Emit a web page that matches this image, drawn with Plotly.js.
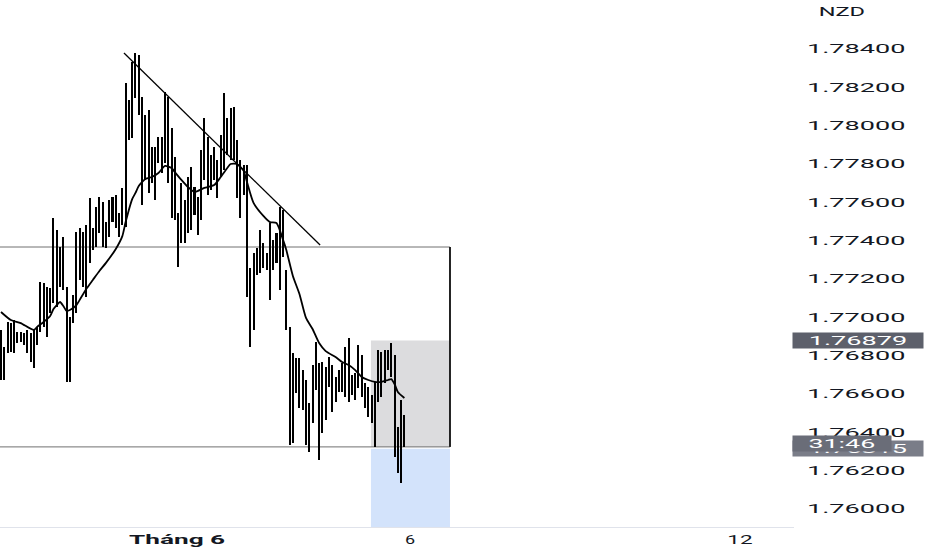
<!DOCTYPE html>
<html><head><meta charset="utf-8">
<script src="https://cdn.plot.ly/plotly-3.0.1.min.js"></script>
<style>html,body{margin:0;padding:0;background:#fff;}#chart{width:932px;height:550px;}</style>
</head><body><div id="chart"></div>
<script>
// hourly bars (high / low)
const highs = [1.76934,1.76845,1.76976,1.76970,1.76986,1.76924,1.76924,1.76918,1.76934,1.76918,
1.76934,1.76950,1.77184,1.77179,1.77158,1.77153,1.77518,1.77456,1.77367,1.77419,
1.77158,1.77002,1.77117,1.77445,1.77466,1.77445,1.77482,1.77623,1.77466,1.77576,
1.77628,1.77602,1.77497,1.77612,1.77628,1.77638,1.77544,1.77675,1.78223,1.78134,
1.78332,1.78379,1.78369,1.78150,1.78056,1.78082,1.77889,1.77889,1.77941,1.77941,
1.78176,1.78150,1.77988,1.77837,1.77544,1.77701,1.77612,1.77732,1.77784,1.77680,
1.77628,1.77873,1.78040,1.77941,1.77847,1.77889,1.77821,1.77951,1.78171,1.78040,
1.78092,1.78097,1.77925,1.77821,1.77795,1.77795,1.77257,1.77336,1.77362,1.77456,
1.77388,1.77336,1.77492,1.77404,1.77440,1.77576,1.77560,1.77247,1.76950,1.76814,
1.76788,1.76788,1.76725,1.76673,1.76553,1.76751,1.76871,1.76762,1.76767,1.76741,
1.76793,1.76751,1.76689,1.76725,1.76762,1.76845,1.76892,1.76699,1.76710,1.76856,
1.76804,1.76657,1.76637,1.76595,1.76663,1.76830,1.76819,1.76830,1.76830,1.76866,
1.76804,1.76428,1.76569,1.76491];
const lows = [1.76673,1.76673,1.76814,1.76819,1.76814,1.76866,1.76871,1.76856,1.76814,1.76767,
1.76736,1.76856,1.76924,1.76950,1.76897,1.77023,1.77075,1.77054,1.77158,1.77143,
1.76663,1.76663,1.76970,1.77023,1.77195,1.77158,1.77106,1.77284,1.77351,1.77367,
1.77440,1.77367,1.77362,1.77419,1.77497,1.77466,1.77419,1.77482,1.77471,1.77925,
1.77936,1.78145,1.78056,1.77586,1.77717,1.77649,1.77701,1.77612,1.77805,1.77753,
1.77805,1.77701,1.77518,1.77508,1.77263,1.77388,1.77388,1.77440,1.77456,1.77534,
1.77430,1.77508,1.77717,1.77638,1.77664,1.77717,1.77623,1.77732,1.77769,1.77847,
1.77821,1.77821,1.77623,1.77518,1.77638,1.77106,1.76845,1.76934,1.77221,1.77231,
1.77257,1.77247,1.77091,1.77247,1.77284,1.77143,1.77315,1.76934,1.76334,1.76344,
1.76605,1.76527,1.76517,1.76334,1.76298,1.76449,1.76621,1.76256,1.76397,1.76464,
1.76637,1.76506,1.76558,1.76611,1.76611,1.76584,1.76558,1.76595,1.76569,1.76631,
1.76584,1.76527,1.76480,1.76449,1.76324,1.76558,1.76584,1.76657,1.76725,1.76689,
1.76271,1.76188,1.76136,1.76324];

// moving average line
const maIndex = [0,3,6,10,11,13,15,16,17,18,19,20,21,23,24,26,28,30,32,35,37,38,40,41,42,44,45,46,48,50,
52,53,55,57,59,62,65,67,69,70,72,73,74,75,77,80,82,84,86,87,89,91,93,95,97,99,102,104,106,108,
110,112,114,116,118,119,120,121,123];
const maValues = [1.77028,1.76986,1.76970,1.76934,1.76950,1.76976,1.77007,1.77043,1.77064,1.77080,
1.77059,1.77033,1.77038,1.77064,1.77091,1.77148,1.77195,1.77242,1.77284,1.77357,
1.77424,1.77497,1.77617,1.77649,1.77685,1.77722,1.77727,1.77732,1.77753,1.77790,
1.77779,1.77758,1.77717,1.77680,1.77654,1.77675,1.77690,1.77732,1.77779,1.77800,
1.77800,1.77784,1.77764,1.77706,1.77597,1.77529,1.77497,1.77492,1.77404,1.77351,
1.77216,1.77122,1.76997,1.76939,1.76866,1.76824,1.76793,1.76767,1.76751,1.76725,
1.76689,1.76673,1.76663,1.76663,1.76673,1.76678,1.76652,1.76611,1.76579];

// drawings
const trendIndex = [37.5, 97.3];
const trendPrice = [1.78379, 1.77377];
const rangeTop = 1.77367, rangeBottom = 1.76324, rangeStart = -10, rangeEnd = 136.9;
const posStart = 112.8, posEnd = 136.9;
const stopPrice = 1.76879, entryPrice = 1.76324, targetPrice = 1.7550;
const lastPrice = 1.76315, lastPriceText = '1.76315', countdownText = '31:46';
const currency = 'NZD';

// axes
const priceTicks = [1.760,1.762,1.764,1.766,1.768,1.770,1.772,1.774,1.776,1.778,1.780,1.782,1.784];
const dateTickIndex = [53.7, 124.7, 225.3];
const dateTickText = ['<b>Tháng 6</b>', '6', '12'];
const yRange = [1.759061, 1.786557];
const xRange = [-0.305, 241.8];

const idx = highs.map((_, i) => i);
const FONT = 'Roboto, "Liberation Sans", Arial, sans-serif';
const INK = '#131722';

const bars = {
  type: 'bar', x: idx, base: lows, y: highs.map((h, i) => h - lows[i]),
  width: 0.62, marker: {color: '#000', line: {width: 0}}, hoverinfo: 'skip', showlegend: false
};
const ma = {
  type: 'scatter', mode: 'lines', x: maIndex, y: maValues,
  line: {color: '#000', width: 1.8, shape: 'spline', smoothing: 0.6}, hoverinfo: 'skip', showlegend: false
};

const layout = {
  width: 932, height: 550,
  margin: {l: 0, r: 138, t: 0, b: 23},
  paper_bgcolor: '#fff', plot_bgcolor: '#fff',
  bargap: 0,
  font: {family: FONT, color: INK, size: 12},
  xaxis: {
    range: xRange, showgrid: false, zeroline: false, showline: true, linecolor: '#e0e3eb', linewidth: 1,
    tickvals: dateTickIndex, ticktext: dateTickText, ticks: '', tickfont: {size: 12, color: INK},
    ticklabelstandoff: 2, fixedrange: true
  },
  yaxis: {
    side: 'right', range: yRange, showgrid: false, zeroline: false, showline: false,
    tickvals: priceTicks, tickformat: '.5f', ticks: '', ticklabelstandoff: 12,
    tickfont: {size: 12, color: INK}, fixedrange: true
  },
  shapes: [
    {type: 'rect', xref: 'x', yref: 'y', x0: posStart, x1: posEnd, y0: entryPrice, y1: stopPrice,
     fillcolor: '#dcdcde', line: {width: 0}, layer: 'below'},
    {type: 'rect', xref: 'x', yref: 'y', x0: posStart, x1: posEnd, y0: targetPrice, y1: lastPrice - 0.00001,
     fillcolor: '#d3e3fb', line: {width: 0}, layer: 'below'},
    {type: 'rect', xref: 'x', yref: 'y', x0: rangeStart, x1: rangeEnd, y0: rangeBottom, y1: rangeTop,
     fillcolor: 'rgba(0,0,0,0)', line: {color: '#707070', width: 1}, layer: 'below'},
    {type: 'line', xref: 'x', yref: 'y', x0: rangeEnd, x1: rangeEnd, y0: rangeBottom, y1: rangeTop,
     line: {color: '#222', width: 2}},
    {type: 'line', xref: 'x', yref: 'y', x0: trendIndex[0], x1: trendIndex[1], y0: trendPrice[0], y1: trendPrice[1],
     line: {color: '#000', width: 1.3}}
  ],
  annotations: [
    {xref: 'paper', yref: 'y', x: 792/794, y: stopPrice, xanchor: 'left', yanchor: 'middle',
     text: stopPrice.toFixed(5), showarrow: false, bgcolor: '#5d606b', width: 130, height: 15, borderpad: 0,
     align: 'center', font: {color: '#fff', size: 12, family: FONT}},
    {xref: 'paper', yref: 'y', x: 792/794, y: lastPrice, xanchor: 'left', yanchor: 'middle',
     text: lastPriceText, showarrow: false, bgcolor: '#7a7d88', width: 130, height: 15, borderpad: 0,
     align: 'center', font: {color: '#fff', size: 12, family: FONT}},
    {xref: 'paper', yref: 'y', x: 792/794, y: lastPrice, yshift: 5, xanchor: 'left', yanchor: 'middle',
     text: countdownText, showarrow: false, bgcolor: '#6a6d78', width: 98, height: 15, borderpad: 0,
     align: 'center', font: {color: '#fff', size: 12, family: FONT}},
    {xref: 'paper', yref: 'paper', x: 842/794, y: 1 - 12/527, xanchor: 'center', yanchor: 'middle',
     text: currency, showarrow: false, font: {color: INK, size: 12, family: FONT}}
  ]
};

function stretch(sel, sp) {
  document.querySelectorAll(sel).forEach(t => {
    const w = t.getComputedTextLength();
    const n = t.textContent.length;
    if (!w) return;
    t.setAttribute('textLength', (w * 1.5 + (n - 1) * sp).toFixed(1));
    t.setAttribute('lengthAdjust', 'spacingAndGlyphs');
  });
}

Plotly.newPlot('chart', [bars, ma], layout, {staticPlot: true, displayModeBar: false}).then(() => {
  stretch('.ytick text', 5.5);
  stretch('.xtick text', 5);
  stretch('.annotation-text', 5.5);
});
</script></body></html>
